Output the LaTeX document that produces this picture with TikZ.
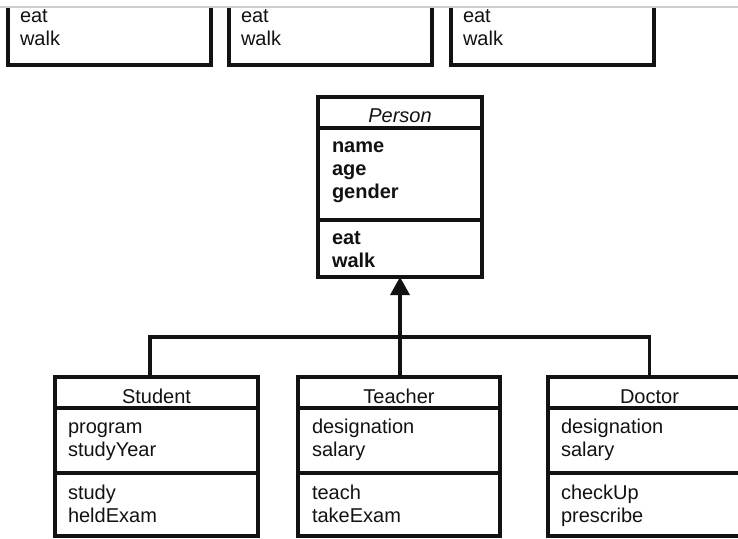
\documentclass[tikz,border=0pt]{standalone}
\usepackage{fontspec}
\setmainfont{Liberation Sans}
\usetikzlibrary{arrows.meta,calc}
\definecolor{ink}{RGB}{18,18,18}
\definecolor{rulegray}{RGB}{205,205,205}
\begin{document}
\begin{tikzpicture}[x=1pt,y=-1pt,
  compart/.style={draw=ink, line width=3.4pt, inner sep=0pt, outer sep=0pt, anchor=north west},
  txt/.style={inner sep=0pt, outer sep=0pt, anchor=base west, text=ink, font=\fontsize{20}{23}\selectfont},
  boldtxt/.style={txt, font=\fontsize{20}{23}\selectfont\bfseries},
  heading/.style={txt, anchor=base},
  link/.style={draw=ink, line width=3.4pt},
]
\clip (0,0) rectangle (738,538);

% page rule along the top
\draw[rulegray, line width=1.5pt] (0,7) -- (738,7);

% operation compartments of the classes above, cut off by the rule
\begin{scope}
  \clip (0,8.5) rectangle (738,538);
  \foreach \px/\nm in {8/topA, 229/topB, 451/topC} {
    \node[compart, minimum width=203pt, minimum height=68pt] (\nm) at (\px,-3) {};
    \node[txt] (\nm eat) at ($(\nm.north west)+(12,25)$) {eat};
    \node[txt] (\nm walk) at ($(\nm.north west)+(12,48)$) {walk};
  }
\end{scope}

% Person
\node[compart, minimum width=164pt, minimum height=31pt] (personTitle) at (318,97) {};
\node[compart, minimum width=164pt, minimum height=92pt] (personAttrs) at (personTitle.south west) {};
\node[compart, minimum width=164pt, minimum height=57pt] (personOps) at (personAttrs.south west) {};
\node[heading] (personName) at ($(personTitle.north)+(0,25)$) {\itshape Person};
\foreach \t [count=\i] in {name,age,gender}
  \node[boldtxt] (personA\i) at ($(personAttrs.north west)+(14,1+23*\i)$) {\t};
\foreach \t [count=\i] in {eat,walk}
  \node[boldtxt] (personO\i) at ($(personOps.north west)+(14,1+23*\i)$) {\t};

% Student
\node[compart, minimum width=203pt, minimum height=31pt] (studentTitle) at (55,377) {};
\node[compart, minimum width=203pt, minimum height=65pt] (studentAttrs) at (studentTitle.south west) {};
\node[compart, minimum width=203pt, minimum height=63pt] (studentOps) at (studentAttrs.south west) {};
\node[heading] (studentName) at ($(studentTitle.north)+(0,26)$) {Student};
\foreach \t [count=\i] in {program,studyYear}
  \node[txt] (studentA\i) at ($(studentAttrs.north west)+(13,2+23*\i)$) {\t};
\foreach \t [count=\i] in {study,heldExam}
  \node[txt] (studentO\i) at ($(studentOps.north west)+(13,3+23*\i)$) {\t};

% Teacher
\node[compart, minimum width=202pt, minimum height=31pt] (teacherTitle) at (298,377) {};
\node[compart, minimum width=202pt, minimum height=65pt] (teacherAttrs) at (teacherTitle.south west) {};
\node[compart, minimum width=202pt, minimum height=63pt] (teacherOps) at (teacherAttrs.south west) {};
\node[heading] (teacherName) at ($(teacherTitle.north)+(0,26)$) {Teacher};
\foreach \t [count=\i] in {designation,salary}
  \node[txt] (teacherA\i) at ($(teacherAttrs.north west)+(14,2+23*\i)$) {\t};
\foreach \t [count=\i] in {teach,takeExam}
  \node[txt] (teacherO\i) at ($(teacherOps.north west)+(14,3+23*\i)$) {\t};

% Doctor
\node[compart, minimum width=203pt, minimum height=31pt] (doctorTitle) at (548,377) {};
\node[compart, minimum width=203pt, minimum height=65pt] (doctorAttrs) at (doctorTitle.south west) {};
\node[compart, minimum width=203pt, minimum height=63pt] (doctorOps) at (doctorAttrs.south west) {};
\node[heading] (doctorName) at ($(doctorTitle.north)+(0,26)$) {Doctor};
\foreach \t [count=\i] in {designation,salary}
  \node[txt] (doctorA\i) at ($(doctorAttrs.north west)+(13,2+23*\i)$) {\t};
\foreach \t [count=\i] in {checkUp,prescribe}
  \node[txt] (doctorO\i) at ($(doctorOps.north west)+(13,3+23*\i)$) {\t};

% generalisation: subclasses share one line up to Person
\coordinate (bus) at (400,337);
\draw[link] ([xshift=-6.5pt]studentTitle.north) |- (bus) -| (doctorTitle.north);
\draw[link, -{Triangle[width=19pt,length=18pt]}] (teacherTitle.north -| personOps.south) -- (personOps.south);
\end{tikzpicture}
\end{document}
